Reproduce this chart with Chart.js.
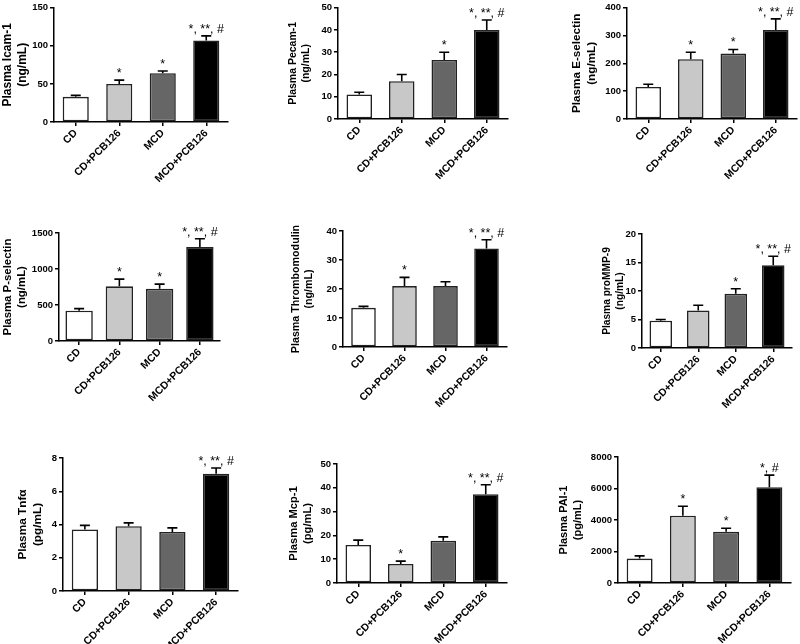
<!DOCTYPE html>
<html>
<head>
<meta charset="utf-8">
<script src="https://cdn.jsdelivr.net/npm/chart.js@4.4.1/dist/chart.umd.min.js"></script>
<style>
  html, body { margin: 0; padding: 0; background: #fff; }
  body { width: 800px; height: 644px; position: relative; overflow: hidden; }
</style>
</head>
<body>
<script>
const groups = ['CD', 'CD+PCB126', 'MCD', 'MCD+PCB126'];

// mean values, top of the error bar (mean + SEM), significance marks
const icamMean = [33, 50, 64, 107];
const icamErr = [35, 55, 67, 113];
const icamSig = ['', '*', '*', '*, **, #'];

const pecamMean = [11, 17, 26.5, 40];
const pecamErr = [12, 20, 30, 44.5];
const pecamSig = ['', '', '*', '*, **, #'];

const eselMean = [115, 215, 235, 320];
const eselErr = [125, 240, 250, 360];
const eselSig = ['', '*', '*', '*, **, #'];

const pselMean = [420, 760, 725, 1305];
const pselErr = [450, 860, 790, 1420];
const pselSig = ['', '*', '*', '*, **, #'];

const thromboMean = [13.5, 21, 21, 34];
const thromboErr = [14, 24, 22.5, 37];
const thromboSig = ['', '*', '', '*, **, #'];

const mmpMean = [4.8, 6.6, 9.5, 14.5];
const mmpErr = [5.0, 7.5, 10.4, 16.1];
const mmpSig = ['', '', '*', '*, **, #'];

const tnfMean = [3.7, 3.9, 3.55, 7.05];
const tnfErr = [3.95, 4.1, 3.8, 7.4];
const tnfSig = ['', '', '', '*, **, #'];

const mcpMean = [16, 8, 17.8, 37.3];
const mcpErr = [18, 9.2, 19.4, 41.3];
const mcpSig = ['', '*', '', '*, **, #'];

const paiMean = [1550, 4270, 3250, 6080];
const paiErr = [1720, 4870, 3480, 6850];
const paiSig = ['', '*', '*', '*, #'];

const panels = [
  {label: 'Plasma Icam-1', unit: '(ng/mL)', mean: icamMean, err: icamErr, sig: icamSig, max: 150, step: 50},
  {label: 'Plasma Pecam-1', unit: '(ng/mL)', mean: pecamMean, err: pecamErr, sig: pecamSig, max: 50, step: 10},
  {label: 'Plasma E-selectin', unit: '(ng/mL)', mean: eselMean, err: eselErr, sig: eselSig, max: 400, step: 100},
  {label: 'Plasma P-selectin', unit: '(ng/mL)', mean: pselMean, err: pselErr, sig: pselSig, max: 1500, step: 500},
  {label: 'Plasma Thrombomodulin', unit: '(ng/mL)', mean: thromboMean, err: thromboErr, sig: thromboSig, max: 40, step: 10},
  {label: 'Plasma proMMP-9', unit: '(ng/mL)', mean: mmpMean, err: mmpErr, sig: mmpSig, max: 20, step: 5},
  {label: 'Plasma Tnfα', unit: '(pg/mL)', mean: tnfMean, err: tnfErr, sig: tnfSig, max: 8, step: 2},
  {label: 'Plasma Mcp-1', unit: '(pg/mL)', mean: mcpMean, err: mcpErr, sig: mcpSig, max: 50, step: 10},
  {label: 'Plasma PAI-1', unit: '(pg/mL)', mean: paiMean, err: paiErr, sig: paiSig, max: 8000, step: 2000}
];

// where each small chart sits on the page
const boxes = [
  {x: 0,   y: 0,   h: 210, axisX: 54,  top: 6,   bottom: 122, right: 228, titleX: 8,   titleSize: 12,   bar: 0.6},
  {x: 270, y: 0,   h: 210, axisX: 338, top: 7,   bottom: 119, right: 508, titleX: 293, titleSize: 10.5, bar: 0.6},
  {x: 540, y: 0,   h: 210, axisX: 627, top: 6,   bottom: 119, right: 797, titleX: 577, titleSize: 11.7, bar: 0.6},
  {x: 0,   y: 210, h: 210, axisX: 59,  top: 233, bottom: 341, right: 220, titleX: 8,   titleSize: 11.4, bar: 0.68},
  {x: 270, y: 210, h: 210, axisX: 343, top: 231, bottom: 347, right: 507, titleX: 296, titleSize: 10.7, bar: 0.6},
  {x: 540, y: 210, h: 210, axisX: 642, top: 234, bottom: 348, right: 792, titleX: 607, titleSize: 10.2, bar: 0.6},
  {x: 0,   y: 420, h: 224, axisX: 63,  top: 458, bottom: 591, right: 238, titleX: 23,  titleSize: 11.8, bar: 0.6},
  {x: 270, y: 420, h: 224, axisX: 337, top: 464, bottom: 583, right: 507, titleX: 294, titleSize: 11.2, bar: 0.6},
  {x: 540, y: 420, h: 224, axisX: 618, top: 457, bottom: 583, right: 791, titleX: 564, titleSize: 11,   bar: 0.6}
];

const barColors = ['#ffffff', '#c8c8c8', '#666666', '#000000'];
const family = '"Liberation Sans", Arial, sans-serif';

const errorBars = {
  id: 'errorBars',
  afterDatasetsDraw(chart, args, opts) {
    const {ctx, scales: {y}} = chart;
    const meta = chart.getDatasetMeta(0);
    ctx.save();
    ctx.strokeStyle = '#000';
    ctx.fillStyle = '#000';
    ctx.lineWidth = 1.6;
    ctx.font = '12.5px ' + family;
    ctx.textAlign = 'center';
    ctx.textBaseline = 'alphabetic';
    meta.data.forEach((bar, i) => {
      const top = y.getPixelForValue(opts.err[i]);
      ctx.beginPath();
      ctx.moveTo(bar.x, bar.y);
      ctx.lineTo(bar.x, top);
      ctx.moveTo(bar.x - 5, top);
      ctx.lineTo(bar.x + 5, top);
      ctx.stroke();
      if (opts.sig[i]) ctx.fillText(opts.sig[i], bar.x, top - 3);
    });
    ctx.restore();
  }
};

panels.forEach((p, i) => {
  const b = boxes[i];
  const w = b.right - b.x + 4;
  const canvas = document.createElement('canvas');
  canvas.width = w;
  canvas.height = b.h;
  canvas.style.cssText = `position:absolute;left:${b.x}px;top:${b.y}px;width:${w}px;height:${b.h}px`;
  document.body.appendChild(canvas);
  const lh = 1.25;

  new Chart(canvas.getContext('2d'), {
    type: 'bar',
    data: {
      labels: groups,
      datasets: [{
        data: p.mean,
        backgroundColor: barColors,
        borderColor: '#222',
        borderWidth: 1.6,
        borderSkipped: false,
        barPercentage: b.bar,
        categoryPercentage: 1
      }]
    },
    options: {
      responsive: false,
      animation: false,
      layout: {padding: {top: b.top - b.y, right: 4, left: 0, bottom: 0}},
      plugins: {
        legend: {display: false},
        tooltip: {enabled: false},
        errorBars: {err: p.err, sig: p.sig}
      },
      scales: {
        x: {
          grid: {offset: false, drawOnChartArea: false, tickLength: 4, color: '#000', lineWidth: 1.5},
          border: {color: '#000', width: 1.5},
          ticks: {color: '#000', minRotation: 45, maxRotation: 45, padding: 1,
                  font: {family: family, size: 10.5, weight: 'bold'}},
          afterFit: s => { s.height = b.h - (b.bottom - b.y); }
        },
        y: {
          min: 0,
          max: p.max,
          ticks: {stepSize: p.step, color: '#000', padding: 2,
                  font: {family: family, size: 9.5, weight: 'bold'},
                  callback: v => String(v)},
          grid: {drawOnChartArea: false, tickLength: 4, color: '#000', lineWidth: 1.5},
          border: {color: '#000', width: 1.5},
          title: {
            display: true,
            text: [p.label, p.unit],
            color: '#000',
            font: {family: family, size: b.titleSize, weight: 'bold', lineHeight: lh},
            padding: {top: Math.max(0, b.titleX - b.x - b.titleSize * lh / 2), bottom: 0}
          },
          afterFit: s => { s.width = b.axisX - b.x; }
        }
      }
    },
    plugins: [errorBars]
  });
});
</script>
</body>
</html>
